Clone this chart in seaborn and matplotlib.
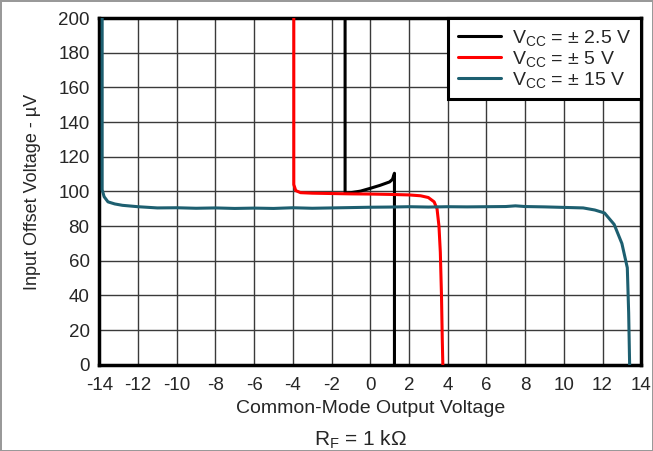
import pandas as pd
import numpy as np
import matplotlib
matplotlib.use("Agg")
import matplotlib.pyplot as plt
import seaborn as sns

sns.set_style("white")
plt.rcParams["font.family"] = ["Liberation Sans", "DejaVu Sans"]
plt.rcParams["mathtext.fontset"] = "custom"
plt.rcParams["mathtext.rm"] = "Liberation Sans"
plt.rcParams["mathtext.it"] = "Liberation Sans"

## Data
vcc_25_x = [-1.3, -1.3, -1.0, -0.5, 0.0, 0.5, 1.0, 1.15, 1.25, 1.25]
vcc_25_y = [200, 99, 99.3, 100.2, 101.8, 103.5, 105.5, 107, 110.5, 0]

vcc_5_x = [-3.95, -3.95, -3.85, -3.6, -3.0, -2.0, -1.0, 0.0, 1.0, 2.0, 2.6,
           3.0, 3.3, 3.45, 3.55, 3.62, 3.68, 3.72, 3.75]
vcc_5_y = [200, 104, 100.5, 99.3, 99, 98.8, 98.6, 98.5, 98.3, 98, 97.5,
           96.5, 94, 90, 80, 65, 40, 15, 0]

vcc_15_x = [-13.85, -13.85, -13.75, -13.55, -13.2, -12.8, -12.0, -11.0, -10.0,
            -9.0, -8.0, -7.0, -6.0, -5.0, -4.0, -3.0, -2.0, -1.0, 0.0, 1.0,
            2.0, 3.0, 4.0, 5.0, 6.0, 7.0, 7.5, 8.0, 9.0, 10.0, 11.0, 11.6,
            12.1, 12.6, 13.0, 13.28, 13.35, 13.4]
vcc_15_y = [200, 101, 97, 94, 92.8, 92, 91.2, 90.5, 90.6, 90.3, 90.5, 90.2,
            90.4, 90.2, 90.6, 90.3, 90.5, 90.7, 90.9, 91, 91.2, 91, 91.2, 91.1,
            91.2, 91.3, 91.7, 91.3, 91.1, 90.8, 90.5, 89.3, 87.6, 81, 70, 56,
            30, 0]

labels = [r"V$_{\mathrm{CC}}$ = ± 2.5 V", r"V$_{\mathrm{CC}}$ = ± 5 V",
          r"V$_{\mathrm{CC}}$ = ± 15 V"]
colors = ["#000000", "#ff0000", "#1d5f70"]

x_ticks = list(range(-14, 15, 2))
y_ticks = list(range(0, 201, 20))

frames = []
for lab, xs, ys in zip(labels, [vcc_25_x, vcc_5_x, vcc_15_x],
                       [vcc_25_y, vcc_5_y, vcc_15_y]):
    d = pd.DataFrame({"x": xs, "y": ys})
    d["series"] = lab
    frames.append(d)
df = pd.concat(frames, ignore_index=True)

fig = plt.figure(figsize=(6.53, 4.51), dpi=100)
ax = fig.add_axes([0.152, 0.191, 0.830, 0.769])

sns.lineplot(data=df, x="x", y="y", hue="series", palette=colors,
             hue_order=labels, sort=False, estimator=None, units="series",
             linewidth=2.2, ax=ax, zorder=3)

ax.set_xlim(-14, 14)
ax.set_ylim(0, 200)
ax.set_xticks(x_ticks)
ax.set_yticks(y_ticks)
ax.set_xticklabels([str(t) for t in x_ticks], fontsize=13.5)
ax.set_yticklabels([str(t) for t in y_ticks], fontsize=13.5)
ax.tick_params(axis="x", length=0, pad=9)
ax.tick_params(axis="y", length=0, pad=7)
ax.grid(True, color="#3a3a3a", linewidth=1)
for s in ax.spines.values():
    s.set_visible(True)
    s.set_color("black")
    s.set_linewidth(2.5)

ax.set_xlabel("Common-Mode Output Voltage", fontsize=14, labelpad=4)
ax.set_ylabel("Input Offset Voltage - µV", fontsize=13, labelpad=12)

leg = ax.legend(loc="upper right", borderaxespad=0, fontsize=14,
                frameon=True, fancybox=False, framealpha=1,
                handlelength=2.2, handletextpad=0.6, labelspacing=0.05,
                borderpad=0.5)
leg.get_frame().set_edgecolor("black")
leg.get_frame().set_linewidth(2.2)

fig.text(0.552, 0.012, r"R$_{\mathrm{F}}$ = 1 kΩ", ha="center", fontsize=15)

fig.patch.set_edgecolor("#999999")
fig.patch.set_linewidth(2)

fig.savefig("out.png", dpi=100, edgecolor=fig.get_edgecolor())
